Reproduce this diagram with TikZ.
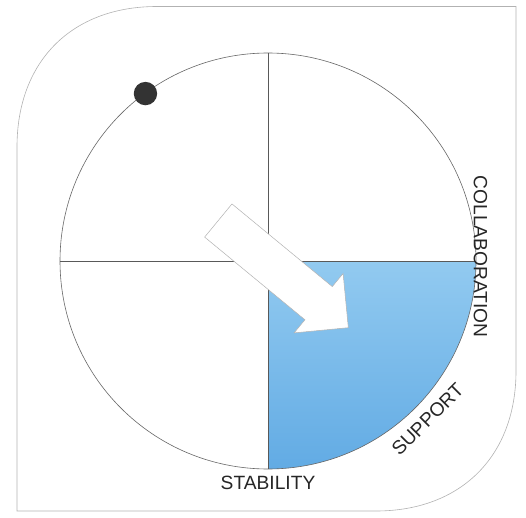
\documentclass[tikz,border=0pt]{standalone}
\usepackage{fontspec}
\setmainfont{Liberation Sans}
\usetikzlibrary{calc}
\definecolor{quadtop}{RGB}{146,202,240}
\definecolor{quadbottom}{RGB}{98,171,228}
\tikzset{
  frame line/.style={line width=0.6pt, black!30},
  wheel line/.style={line width=0.6pt, black!60},
  cross line/.style={line width=0.7pt, black!65},
  pointer arrow/.style={line width=0.5pt, draw=black!30, fill=white, line join=miter},
  wheel label/.style={font=\fontsize{19.2}{21}\selectfont, inner sep=0pt, text=black!85},
}

\begin{document}
\begin{tikzpicture}[x=1pt, y=1pt]
  \useasboundingbox (0,0) rectangle (526,517);
  % card outline, two big rounded corners
  \draw[frame line] (17,6) -- (17,370) .. controls (17,456) and (72,510.5) .. (157,510.5)
    -- (516,510.5) -- (516,146) .. controls (516,61) and (461,6) .. (376,6) -- cycle;

  \coordinate (C) at (268,256);
  \coordinate (E) at ($(C)+(0:208)$);
  \coordinate (W) at ($(C)+(180:208)$);
  \coordinate (N) at ($(C)+(90:208)$);
  \coordinate (S) at ($(C)+(-90:208)$);

  \shade[top color=quadtop, bottom color=quadbottom] (C) -- (E) arc[start angle=0, end angle=-90, radius=208] -- cycle;
  \draw[wheel line] (C) circle[radius=208];
  \draw[cross line] (W) -- (E);
  \draw[cross line] (N) -- (S);

  \fill[black!80] ($(C)+(126.2:207.5)$) circle[radius=11.7];

  \begin{scope}[shift={(218.3,296.5)}, rotate=-39.5]
    \draw[pointer arrow] (0,-21.5) -- (130,-21.5) -- (130,-38.5) -- (168.5,0) -- (130,38.5) -- (130,21.5) -- (0,21.5) -- cycle;
  \end{scope}

  \node[wheel label] (stability) at ($(C)+(-90:222.3)$) {STABILITY};
  \node[wheel label, rotate=45] (support) at ($(C)+(-44.8:225)$) {SUPPORT};
  \node[wheel label, rotate=-90] (collaboration) at ($(C)+(1.2:212.5)$) {COLLABORATION};
\end{tikzpicture}
\end{document}
